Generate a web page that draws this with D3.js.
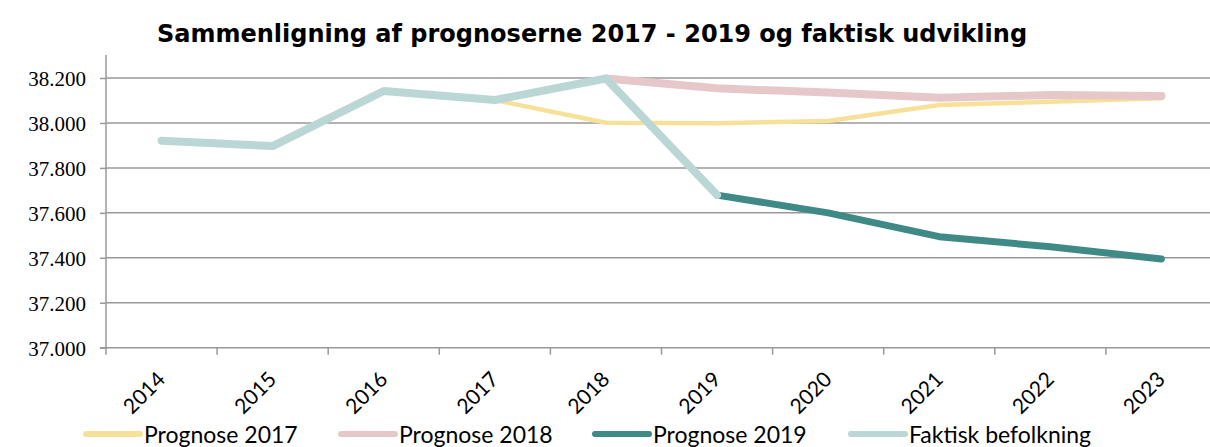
<!DOCTYPE html>
<html>
<head>
<meta charset="utf-8">
<script src="https://cdn.jsdelivr.net/npm/d3@7"></script>
<style>
  body { margin: 0; background: #fff; }
  svg { display: block; }
</style>
</head>
<body>
<div class="chart"></div>
<script>
const years = ['2014', '2015', '2016', '2017', '2018', '2019', '2020', '2021', '2022', '2023'];
const seriesNames = ['Prognose 2017', 'Prognose 2018', 'Prognose 2019', 'Faktisk befolkning'];
const prognose2017 = [null, null, null, 38102, 38001, 37999, 38009, 38080, 38094, 38110];
const prognose2018 = [null, null, null, null, 38198, 38154, 38135, 38112, 38124, 38120];
const prognose2019 = [null, null, null, null, null, 37679, 37600, 37494, 37449, 37395];
const faktisk = [37921, 37897, 38142, 38102, 38198, 37679, null, null, null, null];
const yTicks = [37000, 37200, 37400, 37600, 37800, 38000, 38200];

const W = 1210;
const H = 447;
const margin = { top: 55, left: 106 };
const plotW = 1111;

const colors = ['#f7e199', '#e7c8ca', '#3f8a86', '#bad7d6'];
const widths = [4.5, 8, 7, 8];

const svg = d3.select('.chart').append('svg').attr('width', W).attr('height', H);

svg.append('text')
    .attr('x', 592)
    .attr('y', 42)
    .attr('text-anchor', 'middle')
    .style('font-family', 'DejaVu Sans')
    .style('font-weight', 'bold')
    .style('font-size', '24px')
    .text('Sammenligning af prognoserne 2017 - 2019 og faktisk udvikling');

const x = d3.scaleBand().domain(years).range([margin.left, margin.left + plotW]);
const y = d3.scaleLinear().domain([37000, 38200]).range([347.7, 78]);

const g = svg.append('g');

// gridlines
g.selectAll('.grid')
    .data(yTicks)
    .enter()
    .append('line')
    .attr('x1', margin.left)
    .attr('x2', margin.left + plotW)
    .attr('y1', (d) => y(d))
    .attr('y2', (d) => y(d))
    .attr('stroke', '#999')
    .attr('stroke-width', 1.5);

// y axis
const yAxis = d3.axisLeft(y)
    .tickValues(yTicks)
    .tickSize(6)
    .tickFormat((d) => d3.format(',.3f')(d / 1000).replace(',', '.'));
const yG = g.append('g').attr('transform', `translate(${margin.left},0)`).call(yAxis);
yG.select('.domain').attr('d', `M-6,${y(37000)}H0V55`);

// x axis
const xAxis = d3.axisBottom(x).tickSize(7).tickFormat('');
const xG = g.append('g').attr('transform', `translate(0,${y(37000)})`).call(xAxis);
xG.selectAll('.tick line').attr('x1', -x.bandwidth() / 2).attr('x2', -x.bandwidth() / 2);
xG.select('.domain').remove();

[yG, xG].forEach((ax) => {
    ax.selectAll('line, path').attr('stroke', '#999').attr('stroke-width', 1.5);
});
yG.selectAll('.tick text')
    .attr('x', -20)
    .attr('dy', '0.36em')
    .style('font-family', 'Liberation Sans Narrow')
    .style('font-size', '21px')
    .attr('fill', '#000');

g.selectAll('.xlab')
    .data(years)
    .enter()
    .append('text')
    .attr('text-anchor', 'end')
    .attr('transform', (d) => `translate(${x(d) + x.bandwidth() / 2 + 5},${y(37000) + 33}) rotate(-45)`)
    .style('font-family', 'Lato')
    .style('font-size', '21px')
    .text((d) => d);

// lines
const allSeries = [prognose2017, prognose2018, prognose2019, faktisk];
const line = d3.line()
    .defined((d) => d != null)
    .x((d, i) => x(years[i]) + x.bandwidth() / 2)
    .y((d) => y(d));

allSeries.forEach((s, k) => {
    g.append('path')
        .attr('d', line(s))
        .attr('fill', 'none')
        .attr('stroke', colors[k])
        .attr('stroke-width', widths[k])
        .attr('stroke-linecap', 'round')
        .attr('stroke-linejoin', 'round');
});

// legend
const legendX = [86, 341, 595, 851];
const legend = svg.selectAll('.legend')
    .data(seriesNames)
    .enter()
    .append('g')
    .attr('transform', (d, i) => `translate(${legendX[i]},434)`);
legend.append('line')
    .attr('x1', 0)
    .attr('x2', 54)
    .attr('stroke', (d, i) => colors[i])
    .attr('stroke-width', 6)
    .attr('stroke-linecap', 'round');
legend.append('text')
    .attr('x', 58)
    .attr('y', 9)
    .style('font-family', 'Lato')
    .style('font-size', '23px')
    .text((d) => d);
</script>
</body>
</html>
